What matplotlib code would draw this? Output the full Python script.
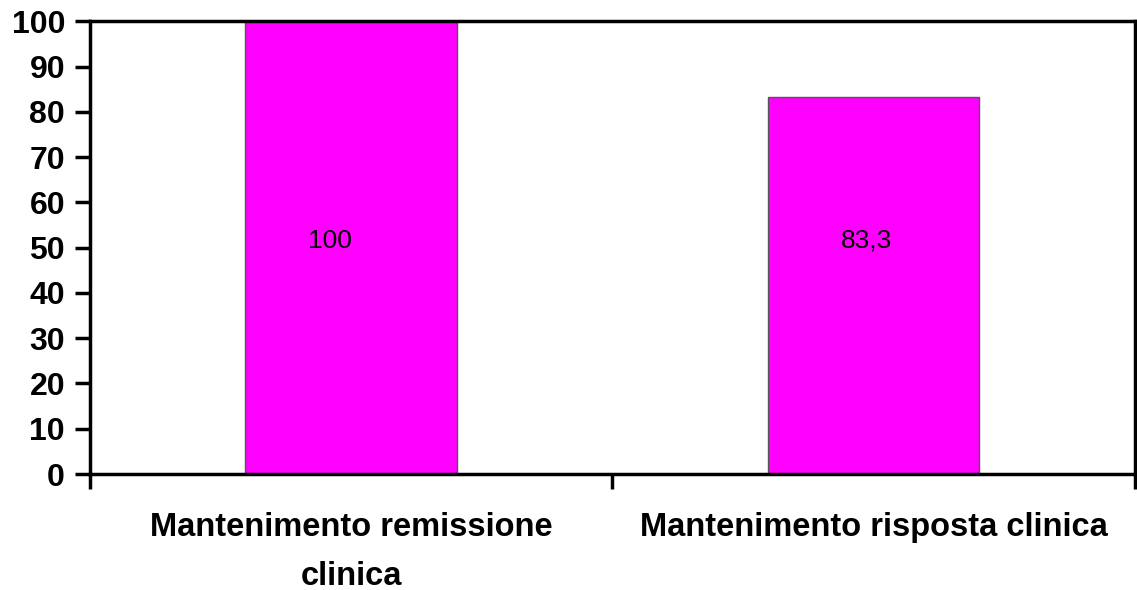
import matplotlib
matplotlib.use("Agg")
import matplotlib.pyplot as plt
import numpy as np

categories = ["Mantenimento remissione\nclinica", "Mantenimento risposta clinica"]
values = [100, 83.3]
value_labels = ["100", "83,3"]
yticks = list(range(0, 101, 10))

plt.rcParams["font.family"] = ["Liberation Sans", "DejaVu Sans"]

fig = plt.figure(figsize=(11.37, 5.90), dpi=100)
ax = fig.add_axes([0.0792, 0.1966, 0.9188, 0.7674])

x = np.arange(len(categories))
bars = ax.bar(x, values, width=0.405, color="#FF00FF", edgecolor="#555555", linewidth=1.0)

# value text placement inside each bar (fraction of bar width), sitting on y=50
label_frac = [0.40, 0.466]
for b, lab, f in zip(bars, value_labels, label_frac):
	ax.text(b.get_x() + b.get_width() * f, 50, lab, ha="center", va="baseline", fontsize=19)

ax.set_xlim(-0.5, 1.5)
ax.set_ylim(0, 100)
ax.set_yticks(yticks)
ax.set_yticklabels([str(t) for t in yticks], fontsize=23, fontweight="bold")

# ticks sit on the category boundaries, labels in the middle
ax.set_xticks([-0.5, 0.5, 1.5])
ax.set_xticklabels([])
ax.set_xticks(x, minor=True)
ax.set_xticklabels(categories, minor=True, fontsize=23.5, fontweight="bold", linespacing=1.75)
ax.tick_params(axis="x", which="minor", length=0, pad=27)
ax.tick_params(axis="x", which="major", length=11, width=2.5, direction="out")
ax.tick_params(axis="y", length=11, width=2.5, direction="out", pad=7)

for s in ax.spines.values():
	s.set_linewidth(2.5)
	s.set_color("black")

fig.savefig("out.png", dpi=100)
